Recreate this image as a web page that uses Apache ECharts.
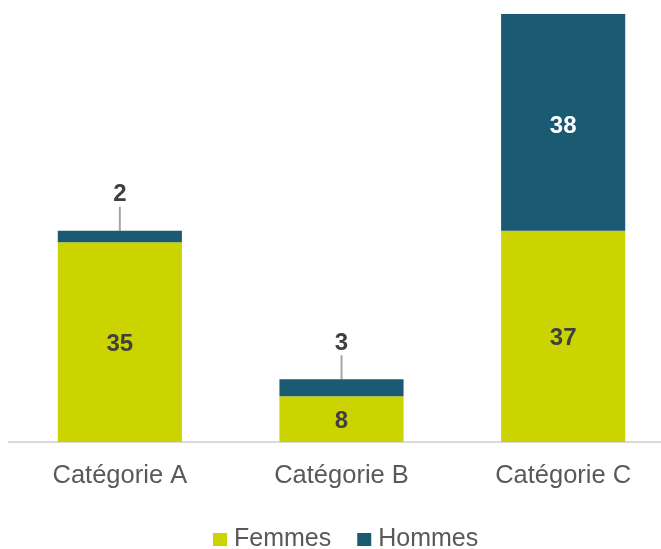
<!DOCTYPE html>
<html><head><meta charset="utf-8">
<script src="https://cdn.jsdelivr.net/npm/echarts@6/dist/echarts.min.js"></script>
<style>html,body{margin:0;padding:0;background:#fff;overflow:hidden}#c{width:675px;height:549px}</style>
</head><body><div id="c"></div>
<script>
const categories = ['Catégorie A', 'Catégorie B', 'Catégorie C'];
const femmes = [35, 8, 37];
const hommes = [2, 3, 38];
const seriesNames = ['Femmes', 'Hommes'];

const chart = echarts.init(document.getElementById('c'));
const font = 'Liberation Sans, Arial, sans-serif';
chart.setOption({
  animation: false,
  grid: {left: 9, right: 1, top: 14, bottom: 107},
  legend: {
    left: 208, top: 522, itemWidth: 14, itemHeight: 13, itemGap: 26,
    icon: 'rect',
    textStyle: {fontFamily: font, fontSize: 25, color: '#595959', padding: [0, 0, 0, 2]},
    data: seriesNames
  },
  xAxis: {
    type: 'category', data: categories,
    axisLine: {lineStyle: {color: '#d9d9d9', width: 2}},
    axisTick: {show: false},
    axisLabel: {fontFamily: font, fontSize: 25.5, color: '#595959', margin: 21}
  },
  yAxis: {type: 'value', min: 0, max: 75, show: false, splitLine: {show: false}},
  series: [
    {
      name: seriesNames[0], type: 'bar', stack: 's', data: femmes,
      barCategoryGap: '44%',
      itemStyle: {color: '#cbd400'},
      label: {show: true, position: 'inside', offset: [0, 2], fontFamily: font, fontSize: 24, fontWeight: 'bold', color: '#404040'}
    },
    {
      name: seriesNames[1], type: 'bar', stack: 's',
      data: hommes.map((v, i) => i < 2 ? {
        value: v,
        label: {position: 'top', distance: 5, color: '#404040', padding: [0, 0, 10, 0]}
      } : {value: v, label: {position: 'inside', color: '#ffffff'}}),
      itemStyle: {color: '#1a5a72'},
      label: {show: true, fontFamily: font, fontSize: 24, fontWeight: 'bold'},
      labelLine: {show: true, lineStyle: {color: '#a6a6a6', width: 2}},
      labelLayout: function (p) {
        return p.dataIndex < 2 ? {dy: -9} : {dy: 4};
      }
    }
  ]
});
</script></body></html>
